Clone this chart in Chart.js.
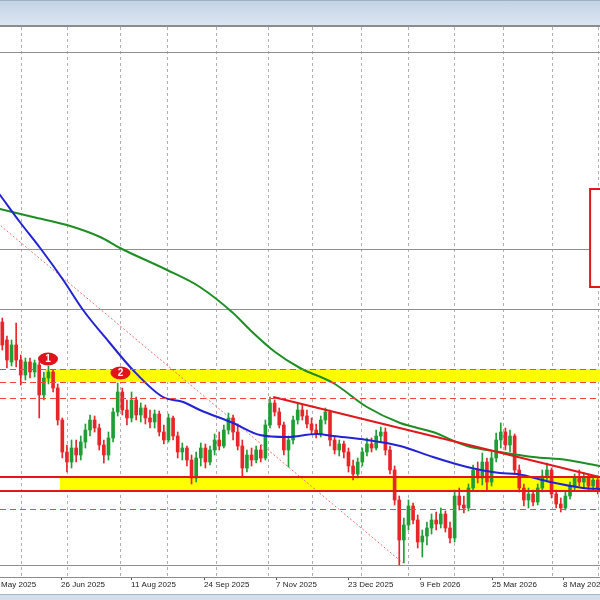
<!DOCTYPE html>
<html>
<head>
<meta charset="utf-8">
<script src="https://cdn.jsdelivr.net/npm/chart.js@4.4.1/dist/chart.umd.min.js"></script>
<style>
  html, body { margin: 0; padding: 0; width: 600px; height: 600px; overflow: hidden; background: #fff; }
  #topbar { position: absolute; left: 0; top: 0; width: 600px; height: 24px; background: linear-gradient(#c3d2e4, #dbe6f3); border-top: 1px solid #9fb0c4; border-bottom: 2px solid #8c8c8c; }
  #botbar { position: absolute; left: 0; top: 594px; width: 600px; height: 6px; background: #d3dfed; border-top: 1px solid #a9b6c6; }
  #wrap { position: absolute; left: -30px; top: 27px; width: 680px; height: 567px; }
</style>
</head>
<body>
<div id="topbar"></div>
<div id="wrap"><canvas id="chart" width="680" height="567"></canvas></div>
<div id="botbar"></div>
<script>
// daily candles (price in points), one entry per bar
var candleOpen = [678,660,638,655,640,625,638,628,635,605,622,628,612,580,548,538,552,545,558,570,
  580,572,555,545,562,588,608,590,582,600,585,592,582,578,586,568,560,582,564,548,
  552,540,522,542,552,538,550,560,554,570,582,568,554,532,545,540,550,542,575,597,
  588,575,550,560,580,590,584,576,570,566,580,588,560,550,556,548,534,526,538,548,
  556,552,564,568,550,530,500,460,475,494,480,458,464,472,480,476,486,472,462,504,
  495,492,512,530,522,538,518,542,560,568,555,564,530,512,500,506,498,512,524,530,
  506,496,492,504,514,522,518,522,514,520];
var candleHigh = [682,664,660,677,645,642,642,640,638,628,634,630,616,582,555,560,560,564,576,585,
  584,576,560,568,592,617,612,600,608,603,597,595,590,590,589,575,586,584,568,557,
  554,545,548,557,556,554,566,568,575,587,585,576,560,550,552,554,555,580,603,600,
  592,578,564,584,596,595,590,582,576,584,592,590,564,560,559,552,540,542,552,562,
  562,570,573,572,554,534,504,482,500,497,485,470,478,486,488,492,489,478,510,512,
  504,516,535,538,547,542,548,567,577,572,570,566,535,516,512,510,516,530,537,532,
  510,502,508,518,526,530,527,525,524,524];
var candleLow = [650,632,634,633,615,620,622,623,582,600,616,608,575,542,528,532,538,540,552,564,
  568,550,537,540,558,584,585,575,578,580,578,576,572,572,564,556,558,560,542,540,
  534,516,518,534,532,535,545,550,552,566,560,550,523,528,534,537,538,540,572,584,
  572,545,533,556,576,580,572,566,562,563,576,554,546,544,542,528,520,522,534,544,
  548,550,558,545,526,495,435,437,470,476,452,443,455,466,470,472,468,457,458,490,
  487,489,510,517,515,510,514,538,552,550,548,526,508,494,492,494,495,508,520,502,
  492,488,490,501,510,514,512,510,510,506];
var candleClose = [655,640,655,640,625,638,628,637,605,622,628,612,580,548,538,552,545,558,570,580,
  572,555,545,562,588,608,590,582,600,585,592,582,578,586,568,560,582,564,548,552,
  540,522,542,552,538,550,560,554,570,582,568,554,532,545,540,550,542,575,597,588,
  575,550,560,580,590,584,576,570,566,580,588,560,550,556,548,534,526,538,548,556,
  552,564,568,550,530,500,460,475,494,480,458,464,472,480,476,486,472,462,504,495,
  492,512,530,522,538,518,542,560,568,555,564,530,512,500,506,498,512,524,530,506,
  496,492,504,514,522,518,522,514,520,512];

// moving averages (bar position, value)
var blueMaX = [-7,-0.5,3.8,8.2,13.2,17.5,23.3,28.3,34.8,39.2,42.8,50.0,55.8,61.7,68.2,71.7,79.0,86.2,93.3,100.7,107.8,111.5,118.7,125.8,129.5,138.2];
var blueMa  = [845,805,778,752,720,690,657,630,603,598,590,577,565,563,566,564,560,554,543,533,527,526,518,512,511,510];
var greenMaX = [-7,-0.5,6.65,14.0,21.2,25.5,35.7,42.8,50.0,53.7,59.1,64.5,71.7,79.0,86.2,93.3,100.7,107.8,115.0,122.4,129.5,138.2];
var greenMa  = [798,791,783,775,763,752,730,713,687,670,648,632,617,593,577,568,554,548,543,540,534,530];

// drawn objects
var trendX = [58.7, 138.2];
var trendY = [603, 513];
var diagX = [-7, 86.8];
var diagY = [800, 437];
var zoneStart = [9.25, 12.5];
var zoneTop = [631, 523];
var zoneBottom = [618, 509];
var dashedLevels = [631, 618, 602, 491];
var solidLevels = [523, 509];
var markerX = [9.9, 25.6];
var markerY = [641, 627];
var markerText = ['1', '2'];
var boxX = [127.35, 145];
var boxY = [811, 713];

// axes
var gridX = [4.05, 14.23, 25.5, 35.7, 46.5, 57.6, 67.1, 77.9, 88.1, 97.9, 108.5, 119.3, 129.1];
var gridY = [947, 751, 691, 435];
var labelX = [-2.67, 12.72, 27.9, 43.7, 59.3, 74.9, 90.5, 106.1, 121.5];
var dateLabels = ['13 May 2025', '26 Jun 2025', '11 Aug 2025', '24 Sep 2025', '7 Nov 2025',
  '23 Dec 2025', '9 Feb 2026', '25 Mar 2026', '8 May 2026'];

var upColor = '#1f9e35';
var downColor = '#e8262a';

var wickData = [], bodyData = [], candleColors = [];
for (var i = 0; i < candleOpen.length; i++) {
  wickData.push({ x: i, y: [candleLow[i], candleHigh[i]] });
  bodyData.push({ x: i, y: [candleOpen[i], candleClose[i]] });
  candleColors.push(candleClose[i] >= candleOpen[i] ? upColor : downColor);
}

function pairs(xs, ys) {
  var out = [];
  for (var i = 0; i < xs.length; i++) out.push({ x: xs[i], y: ys[i] });
  return out;
}

function isLabelTick(c) {
  return c.tick && labelX.indexOf(c.tick.value) >= 0;
}

var levelsPlugin = {
  id: 'levels',
  beforeDatasetsDraw: function (chart) {
    var ctx = chart.ctx, xs = chart.scales.x, ys = chart.scales.y, area = chart.chartArea;
    ctx.save();
    ctx.beginPath();
    ctx.rect(area.left, area.top, area.width, area.height);
    ctx.clip();
    ctx.fillStyle = '#ffff00';
    for (var i = 0; i < zoneTop.length; i++) {
      var x0 = xs.getPixelForValue(zoneStart[i]);
      var y0 = ys.getPixelForValue(zoneTop[i]);
      var y1 = ys.getPixelForValue(zoneBottom[i]);
      ctx.fillRect(x0, y0, area.right - x0, y1 - y0);
    }
    ctx.restore();
  },
  afterDatasetsDraw: function (chart) {
    var ctx = chart.ctx, xs = chart.scales.x, ys = chart.scales.y, area = chart.chartArea;
    ctx.save();
    ctx.beginPath();
    ctx.rect(area.left, area.top, area.width, area.height);
    ctx.clip();

    ctx.strokeStyle = '#f0463e';
    ctx.lineWidth = 1;
    ctx.setLineDash([6, 4]);
    dashedLevels.forEach(function (v) {
      var y = Math.round(ys.getPixelForValue(v)) + 0.5;
      ctx.beginPath(); ctx.moveTo(area.left, y); ctx.lineTo(area.right, y); ctx.stroke();
    });
    ctx.setLineDash([]);
    ctx.strokeStyle = '#e3161b';
    ctx.lineWidth = 2;
    solidLevels.forEach(function (v) {
      var y = Math.round(ys.getPixelForValue(v));
      ctx.beginPath(); ctx.moveTo(area.left, y); ctx.lineTo(area.right, y); ctx.stroke();
    });

    // box on the right
    var bx0 = xs.getPixelForValue(boxX[0]), bx1 = xs.getPixelForValue(boxX[1]);
    var by0 = ys.getPixelForValue(boxY[0]), by1 = ys.getPixelForValue(boxY[1]);
    ctx.fillStyle = '#fff';
    ctx.fillRect(bx0, by0, bx1 - bx0, by1 - by0);
    ctx.lineWidth = 2;
    ctx.strokeStyle = '#e3161b';
    ctx.strokeRect(bx0, by0, bx1 - bx0, by1 - by0);

    // numbered markers
    ctx.font = 'bold 10px "Liberation Sans"';
    ctx.textAlign = 'center';
    ctx.textBaseline = 'middle';
    for (var i = 0; i < markerX.length; i++) {
      var cx = xs.getPixelForValue(markerX[i]), cy = ys.getPixelForValue(markerY[i]);
      ctx.beginPath();
      ctx.ellipse(cx, cy, 10, 6.5, 0, 0, Math.PI * 2);
      ctx.fillStyle = '#e0141a';
      ctx.fill();
      ctx.fillStyle = '#fff';
      ctx.fillText(markerText[i], cx, cy + 0.5);
    }
    ctx.restore();
  }
};

Chart.defaults.font.family = '"Liberation Sans", Arial, sans-serif';

var chart = new Chart(document.getElementById('chart'), {
  type: 'bar',
  data: {
    datasets: [
      {
        type: 'line', data: pairs(trendX, trendY), borderColor: '#e3161b', borderWidth: 2,
        pointRadius: 0, order: 0
      },
      {
        type: 'line', data: pairs(blueMaX, blueMa), borderColor: '#2323d6', borderWidth: 2,
        pointRadius: 0, cubicInterpolationMode: 'monotone', order: 1
      },
      {
        type: 'line', data: pairs(greenMaX, greenMa), borderColor: '#1e8e24', borderWidth: 2,
        pointRadius: 0, cubicInterpolationMode: 'monotone', order: 2
      },
      {
        data: bodyData, backgroundColor: candleColors, barThickness: 3, minBarLength: 1,
        grouped: false, borderWidth: 0, order: 3
      },
      {
        data: wickData, backgroundColor: candleColors, barThickness: 1,
        grouped: false, borderWidth: 0, order: 4
      },
      {
        type: 'line', data: pairs(diagX, diagY), borderColor: '#ee7070', borderWidth: 1,
        borderDash: [2, 2], pointRadius: 0, order: 5
      }
    ]
  },
  options: {
    responsive: false,
    animation: false,
    layout: { padding: 0 },
    plugins: { legend: { display: false }, tooltip: { enabled: false } },
    scales: {
      x: {
        type: 'linear', min: -7, max: 140.33, offset: false,
        afterBuildTicks: function (scale) {
          var t = [];
          gridX.forEach(function (v) { t.push({ value: v }); });
          labelX.forEach(function (v) { t.push({ value: v }); });
          t.sort(function (a, b) { return a.value - b.value; });
          scale.ticks = t;
        },
        afterFit: function (scale) { scale.height = 17; },
        grid: {
          offset: false,
          color: function (c) { return isLabelTick(c) ? 'rgba(0,0,0,0)' : '#b0b0b0'; },
          tickColor: function (c) { return isLabelTick(c) ? '#555' : 'rgba(0,0,0,0)'; },
          tickLength: 3,
          lineWidth: 1
        },
        border: { display: true, color: '#8c8c8c', width: 1, dash: [3, 3] },
        ticks: {
          autoSkip: false, maxRotation: 0, align: 'start', padding: 0,
          color: '#222', font: { size: 8 },
          callback: function (value) {
            var k = labelX.indexOf(value);
            return k >= 0 ? dateLabels[k] : '';
          }
        }
      },
      y: {
        type: 'linear', min: 423, max: 973, position: 'right',
        afterBuildTicks: function (scale) {
          scale.ticks = gridY.map(function (v) { return { value: v }; });
        },
        afterFit: function (scale) { scale.width = 0; },
        grid: { color: '#8f8f8f', lineWidth: 1, drawTicks: false },
        border: { display: false },
        ticks: { display: false }
      }
    }
  },
  plugins: [levelsPlugin]
});
</script>
</body>
</html>
